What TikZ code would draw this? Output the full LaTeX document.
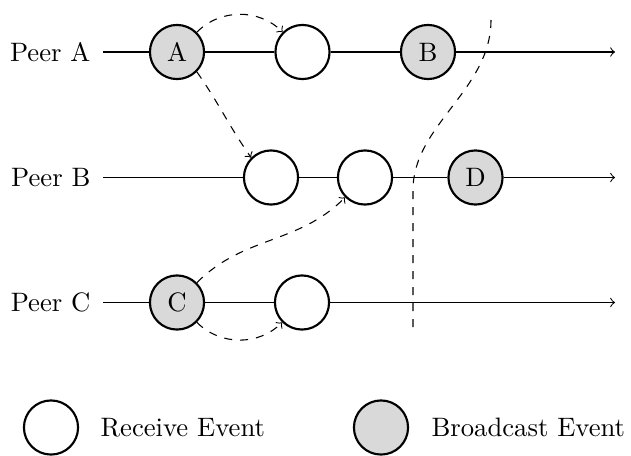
\documentclass[tikz,border=0pt]{standalone}
\begin{document}
\begin{tikzpicture}[x=0.375pt,y=0.375pt,
  event/.style={circle,draw,thick,minimum size=20.3pt,inner sep=0pt,fill=white},
  bcast/.style={event,fill=gray!30},
  peer/.style={anchor=east,inner xsep=4.5pt,inner ysep=0pt},
  legendtext/.style={anchor=west,inner sep=0pt},
  msg/.style={dashed,->},
  cutline/.style={dashed}]
\useasboundingbox (0,0) rectangle (631,455);

% Peer A
\node[peer] (pa) at (103,403) {Peer A};
\node[bcast] (A) at (177,403) {A};
\node[event] (a2) at (302.5,403) {};
\node[bcast] (B) at (428,403) {B};
\coordinate (ea) at (615,403);

% Peer B
\node[peer] (pb) at (103,277.5) {Peer B};
\node[event] (b1) at (271,277.5) {};
\node[event] (b2) at (365,277.5) {};
\node[bcast] (D) at (475.5,277.5) {D};
\coordinate (eb) at (615,277.5);

% Peer C
\node[peer] (pc) at (103,152.5) {Peer C};
\node[bcast] (C) at (177,152.5) {C};
\node[event] (c2) at (302,152.5) {};
\coordinate (ec) at (615,152.5);

% timelines
\draw[->] (pa) -- (A) -- (a2) -- (B) -- (ea);
\draw[->] (pb) -- (b1) -- (b2) -- (D) -- (eb);
\draw[->] (pc) -- (C) -- (c2) -- (ec);

% messages
\draw[msg] (A.north east) to[out=45,in=135] (a2.north west);
\draw[msg] (A.south east) to[out=-55,in=125] (b1.north west);
\draw[msg] (C.north east) to[out=45,in=-135] (b2.south west);
\draw[msg] (C.south east) to[out=-45,in=-135] (c2.south west);

% cut
\coordinate (cuttop) at (491,435);
\coordinate (cutbend) at (413,265);
\coordinate (cutbot) at (413,122);
\draw[cutline] (cuttop) .. controls (491,365) and (413,330) .. (cutbend) -- (cutbot);

% legend
\node[event] (legR) at (51,27.5) {};
\node[legendtext] (legRt) at (100,27.5) {Receive Event};
\node[bcast] (legB) at (381,27.5) {};
\node[legendtext] (legBt) at (431,27.5) {Broadcast Event};
\end{tikzpicture}
\end{document}
